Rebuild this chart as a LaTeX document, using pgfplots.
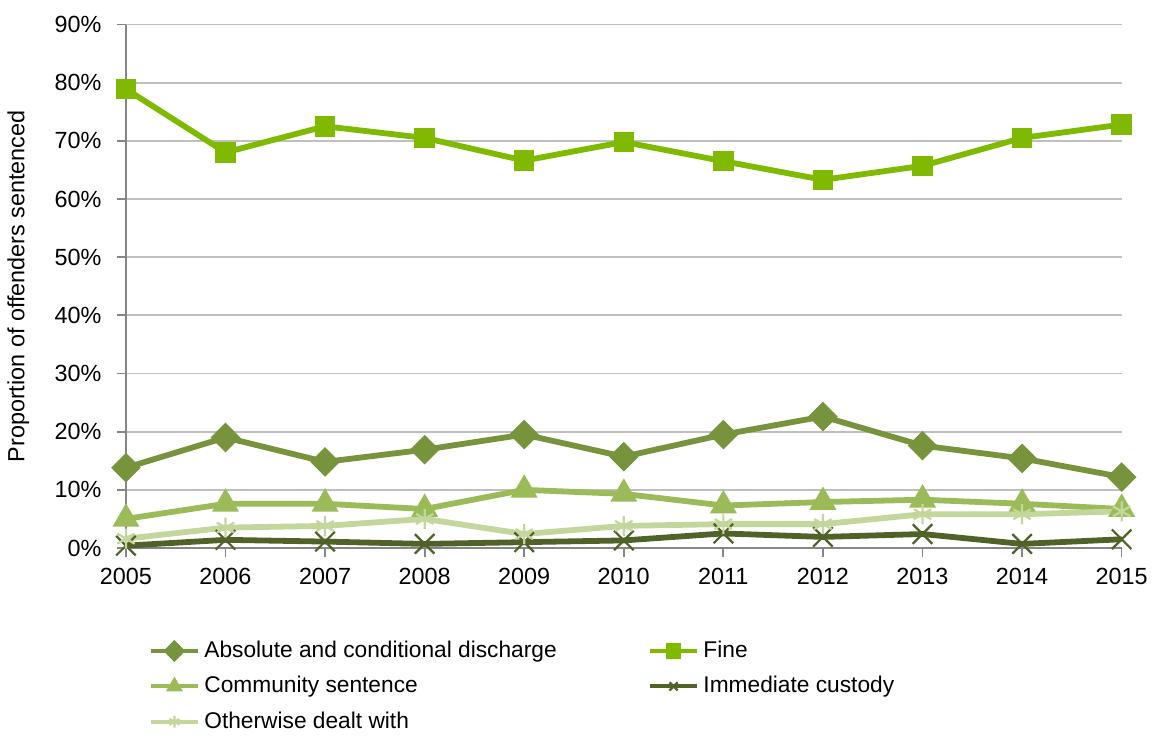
\documentclass[border=0pt]{standalone}
\usepackage{pgfplots}
\pgfplotsset{compat=1.18}
\usepackage{fontspec}
\setmainfont{Liberation Sans}

\definecolor{discharge}{HTML}{77933C}
\definecolor{fine}{HTML}{7FBA00}
\definecolor{community}{HTML}{9BBB59}
\definecolor{custody}{HTML}{4F6228}
\definecolor{otherwise}{HTML}{C3D69B}
\definecolor{gridgray}{HTML}{BFBFBF}
\definecolor{axisgray}{HTML}{868686}

\begin{document}
\begin{tikzpicture}
\begin{axis}[
  scale only axis,
  width=447pt, height=235pt,
  xmin=2005, xmax=2015,
  ymin=0, ymax=90,
  xtick={2005,...,2015},
  ytick={0,10,...,90},
  axis lines=left,
  axis line style={axisgray, line width=0.8pt, -},
  ymajorgrids,
  grid style={gridgray, line width=0.8pt},
  tick align=outside,
  major tick length=4pt,
  tick style={axisgray, line width=0.8pt},
  font=\fontsize{10.5}{12.5}\selectfont,
  /pgf/number format/assume math mode=true,
  /pgf/number format/1000 sep={},
  yticklabel={\pgfmathprintnumber{\tick}\%},
  yticklabel style={xshift=-3.5pt},
  xticklabel style={yshift=-1.5pt},
  ylabel={Proportion of offenders sentenced},
  ylabel style={yshift=4.5pt},
  every axis plot/.append style={line width=2.6pt},
  legend columns=2,
  legend cell align=left,
  legend style={
    at={(axis description cs:0.016,-0.16)}, anchor=north west,
    draw=none, fill=none,
    font=\fontsize{10.2}{12}\selectfont,
    row sep=3pt,
    /tikz/every even column/.append style={column sep=39pt},
    nodes={inner xsep=2pt},
  },
  legend image code/.code={
    \draw[mark repeat=2,mark phase=2,#1,line width=1.8pt,mark size=2.6pt]
      plot coordinates {(0cm,0cm) (0.37cm,0cm) (0.74cm,0cm)};
  },
]
\addplot[discharge, mark=square*, mark size=3.4pt, mark options={rotate=45}]
  coordinates {(2005,13.8) (2006,19.0) (2007,14.8) (2008,16.9) (2009,19.5) (2010,15.7)
               (2011,19.5) (2012,22.6) (2013,17.6) (2014,15.4) (2015,12.2)};
\addlegendentry{Absolute and conditional discharge}
\addplot[fine, mark=square*, mark size=3.3pt]
  coordinates {(2005,78.9) (2006,68.0) (2007,72.5) (2008,70.5) (2009,66.6) (2010,69.8)
               (2011,66.5) (2012,63.3) (2013,65.7) (2014,70.5) (2015,72.8)};
\addlegendentry{Fine}
\addplot[community, mark=triangle*, mark size=4.4pt]
  coordinates {(2005,5.0) (2006,7.6) (2007,7.6) (2008,6.7) (2009,10.0) (2010,9.3)
               (2011,7.3) (2012,7.9) (2013,8.3) (2014,7.6) (2015,6.7)};
\addlegendentry{Community sentence}
\addplot[custody, mark=x, mark size=6.2pt, mark options={line width=1pt}]
  coordinates {(2005,0.4) (2006,1.4) (2007,1.1) (2008,0.7) (2009,1.0) (2010,1.3)
               (2011,2.5) (2012,1.9) (2013,2.4) (2014,0.7) (2015,1.5)};
\addlegendentry{Immediate custody}
\addplot[otherwise, mark=asterisk, mark size=4.5pt, mark options={line width=1pt}]
  coordinates {(2005,1.6) (2006,3.5) (2007,3.8) (2008,5.0) (2009,2.4) (2010,3.8)
               (2011,4.1) (2012,4.1) (2013,5.8) (2014,5.8) (2015,6.3)};
\addlegendentry{Otherwise dealt with}
\end{axis}
% a little white space above the top tick label
\path (current axis.north west) ++(0,11pt);
\end{tikzpicture}
\end{document}
